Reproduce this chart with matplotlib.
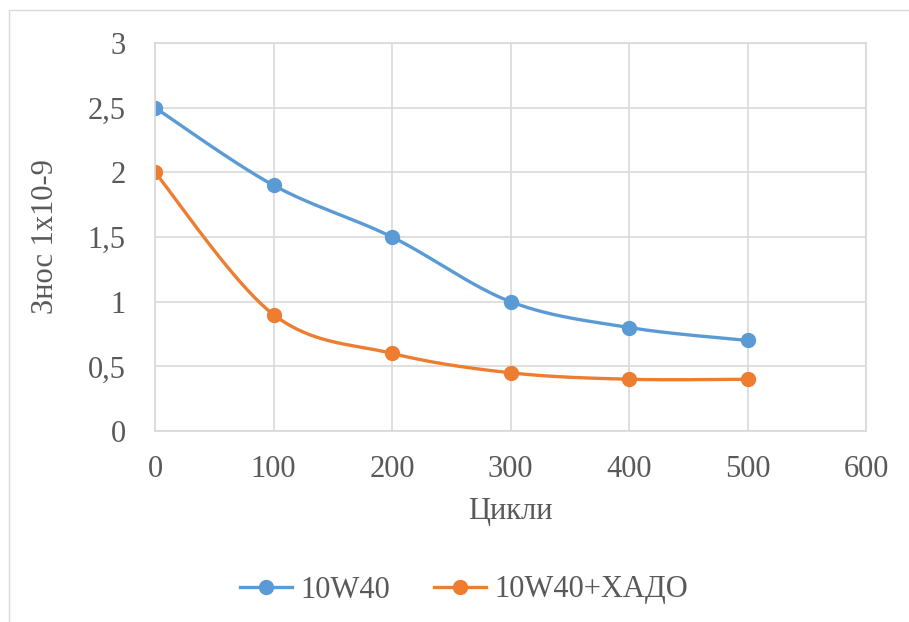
import matplotlib
matplotlib.use("Agg")
import matplotlib.pyplot as plt
import numpy as np
from matplotlib.patches import Rectangle

cycles = [0, 100, 200, 300, 400, 500]
wear_10w40 = [2.5, 1.9, 1.5, 1.0, 0.8, 0.7]
wear_xado = [2.0, 0.9, 0.6, 0.45, 0.4, 0.4]
series_names = ["10W40", "10W40+ХАДО"]

BLUE = "#5B9BD5"
ORANGE = "#ED7D31"
TEXT = "#595959"
GRID = "#D9D9D9"


def smooth(x, y, n=40):
    """Excel-like smoothed line: Catmull-Rom style cubic Bezier segments."""
    p = np.column_stack([x, y]).astype(float)
    pts = [p[0]]
    for i in range(len(p) - 1):
        p0 = p[i - 1] if i > 0 else p[i]
        p1, p2 = p[i], p[i + 1]
        p3 = p[i + 2] if i + 2 < len(p) else p[i + 1]
        c1 = p1 + (p2 - p0) / 6.0
        c2 = p2 - (p3 - p1) / 6.0
        t = np.linspace(0, 1, n)[1:, None]
        seg = ((1 - t) ** 3) * p1 + 3 * ((1 - t) ** 2) * t * c1 \
            + 3 * (1 - t) * t ** 2 * c2 + t ** 3 * p2
        pts.extend(seg)
    pts = np.array(pts)
    return pts[:, 0], pts[:, 1]


plt.rcParams["font.family"] = ["Liberation Serif", "DejaVu Serif"]

fig = plt.figure(figsize=(9.09, 6.22), dpi=100)
fig.patches.append(Rectangle((9 / 909, -0.1), 1.2, 1 - 10 / 622 + 0.1,
                             transform=fig.transFigure, fill=False,
                             edgecolor=GRID, linewidth=1.0))

ax = fig.add_axes([155 / 909, 1 - 431 / 622, 711 / 909, 388 / 622])

for ys, color, name in [(wear_10w40, BLUE, series_names[0]),
                        (wear_xado, ORANGE, series_names[1])]:
    sx, sy = smooth(cycles, ys)
    ax.plot(sx, sy, color=color, linewidth=2.4, solid_capstyle="round")
    ax.plot(cycles, ys, linestyle="none", marker="o", markersize=10,
            color=color)
    ax.plot([], [], color=color, linewidth=2.4, marker="o", markersize=10,
            label=name)

ax.set_xlim(0, 600)
ax.set_ylim(0, 3)
ax.set_xticks(range(0, 601, 100))
ax.set_yticks([0, 0.5, 1, 1.5, 2, 2.5, 3])
ax.set_yticklabels(["0", "0,5", "1", "1,5", "2", "2,5", "3"])
ax.grid(True, color=GRID, linewidth=1.2)
ax.set_axisbelow(True)
for s in ax.spines.values():
    s.set_color(GRID)
    s.set_linewidth(1.2)
ax.tick_params(length=0, labelsize=22, colors=TEXT)
ax.tick_params(axis="y", pad=21)
ax.tick_params(axis="x", pad=17)

ax.set_xlabel("Цикли", fontsize=22, color=TEXT, labelpad=10)
ax.set_ylabel("Знос 1х10-9", fontsize=22, color=TEXT, labelpad=20)

fig.legend(*ax.get_legend_handles_labels(), loc="center left",
           bbox_to_anchor=(240 / 909, 1 - 590 / 622), ncol=2, frameon=False,
           fontsize=22, labelcolor=TEXT, handlelength=1.7,
           handletextpad=0.27, columnspacing=1.45, borderpad=0,
           borderaxespad=0)

fig.savefig("out.png", dpi=100)
